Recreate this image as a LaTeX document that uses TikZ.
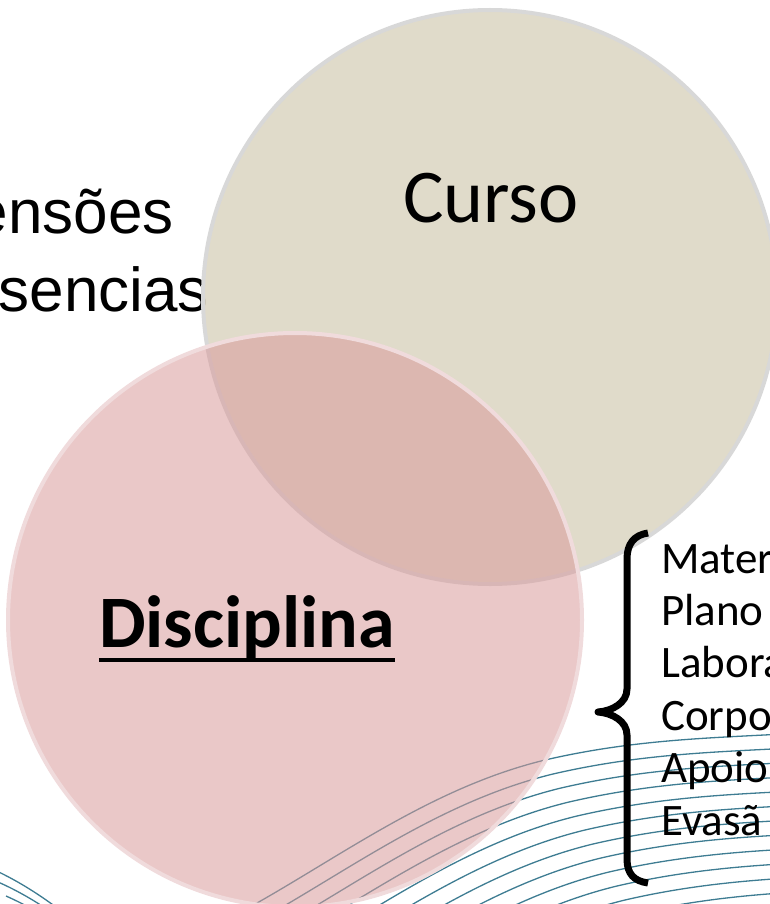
\documentclass[tikz,border=0pt]{standalone}
\usepackage{fontspec}
\setmainfont{Carlito}
\newfontfamily\arialfont{Liberation Sans}
\usetikzlibrary{positioning}

\definecolor{cursofill}{RGB}{220,214,195}
\definecolor{cursoline}{RGB}{216,216,216}
\definecolor{discfill}{RGB}{217,155,155}
\definecolor{discline}{RGB}{240,219,220}
\definecolor{wavecol}{RGB}{62,124,146}

\begin{document}
\begin{tikzpicture}[x=1pt,y=-1pt,
  venn/.style={circle,minimum size=574pt,inner sep=0pt,line width=4pt},
  wave/.style={color=wavecol,line width=1.3pt},
  bigtxt/.style={inner sep=0pt,font=\fontsize{76}{90}\selectfont},
  oldtxt/.style={inner sep=0pt,anchor=base east,font=\arialfont\fontsize{62}{74}\selectfont},
  item/.style={inner sep=0pt,anchor=base west,font=\fontsize{45}{52}\selectfont}]
\useasboundingbox (0,0) rectangle (770,904);

% background swoosh
\foreach \i in {0,...,12}
	\draw[wave,shift={(8*\i,14*\i)}] (-10,868) .. controls (40,890) and (80,925) .. (120,960)
		.. controls (260,930) and (380,800) .. (545,760) .. controls (640,738) and (720,738) .. (800,733);

\node[oldtxt] (dim) at (174,233) {ensões};
\node[oldtxt] (pres) at (209,311) {sencias};

\node[venn,draw=cursoline,fill=cursofill,fill opacity=0.88,draw opacity=1] (curso) at (490,297) {};
\node[venn,draw=discline,fill=discfill,fill opacity=0.55,draw opacity=1] (disc) at (295,620) {};

\node[bigtxt,anchor=base] (cursotxt) at (491,222) {Curso};
\node[bigtxt,anchor=base,font=\bfseries\fontsize{74}{88}\selectfont] (disctxt) at (247,647) {Disciplina};
\draw[line width=3.5pt] ([yshift=-13pt]disctxt.base west) -- ([yshift=-13pt]disctxt.base east);

% brace
\draw[line width=7pt,line join=round] (648,533) .. controls (634,535) and (627,544) .. (627,559) -- (627,689)
	.. controls (627,703) and (612,711) .. (598,712) .. controls (612,713) and (627,721) .. (627,735)
	-- (627,859) .. controls (627,874) and (634,881) .. (648,883);

\foreach \txt [count=\i] in {Mater,Plano,Labora,Corpo,Apoio,Evasã}
	\node[item] (item\i) at (661,{520.6+52.4*\i}) {\txt};

\end{tikzpicture}
\end{document}
